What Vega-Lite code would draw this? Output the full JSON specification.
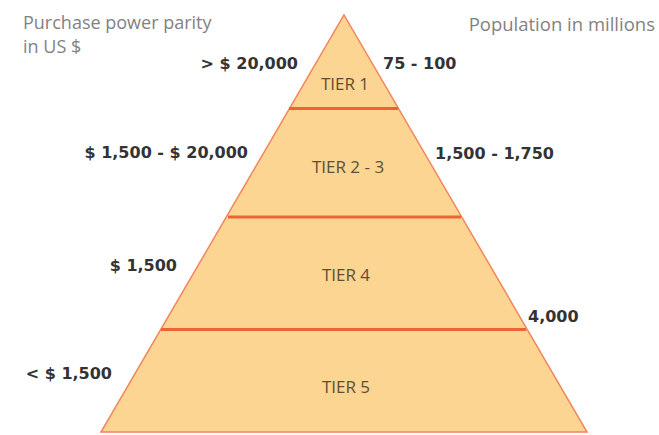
{
  "$schema": "https://vega.github.io/schema/vega-lite/v6.json",
  "width": 659,
  "height": 435,
  "autosize": {"type": "fit", "contains": "padding"},
  "padding": 0,
  "background": "white",
  "config": {"view": {"stroke": null}},
  "datasets": {
    "pyramid": [
      {"y": 15, "left": 344, "right": 344},
      {"y": 434, "left": 101, "right": 587}
    ],
    "dividers": [
      {"y": 109, "left": 289, "right": 398},
      {"y": 218, "left": 228, "right": 461},
      {"y": 331, "left": 161, "right": 526}
    ],
    "tiers": [
      {"tier": "TIER 1", "x": 345, "y": 85},
      {"tier": "TIER 2 - 3", "x": 348, "y": 169},
      {"tier": "TIER 4", "x": 346, "y": 277},
      {"tier": "TIER 5", "x": 346, "y": 390}
    ],
    "ppp": [
      {"label": "> $ 20,000", "x": 298, "y": 64},
      {"label": "$ 1,500 - $ 20,000", "x": 248, "y": 154},
      {"label": "$ 1,500", "x": 177, "y": 267},
      {"label": "< $ 1,500", "x": 112, "y": 376}
    ],
    "population": [
      {"label": "75 - 100", "x": 383, "y": 64},
      {"label": "1,500 - 1,750", "x": 435, "y": 155},
      {"label": "4,000", "x": 528, "y": 318}
    ],
    "headerLeft": [
      {"label": "Purchase power parity", "x": 23, "y": 24},
      {"label": "in US $", "x": 23, "y": 48}
    ],
    "headerRight": [
      {"label": "Population in millions", "x": 655, "y": 25}
    ]
  },
  "layer": [
    {
      "data": {"name": "pyramid"},
      "mark": {"type": "area", "orient": "horizontal", "color": "#FCD592", "stroke": "#F1865E", "strokeWidth": 1.5, "line": false},
      "encoding": {
        "y": {"field": "y", "type": "quantitative", "scale": {"domain": [0, 435], "reverse": true, "nice": false, "zero": false}, "axis": null},
        "x": {"field": "left", "type": "quantitative", "scale": {"domain": [0, 659], "nice": false, "zero": false}, "axis": null},
        "x2": {"field": "right"}
      }
    },
    {
      "data": {"name": "dividers"},
      "mark": {"type": "rule", "color": "#EE6236", "strokeWidth": 3},
      "encoding": {
        "y": {"field": "y", "type": "quantitative"},
        "x": {"field": "left", "type": "quantitative"},
        "x2": {"field": "right"}
      }
    },
    {
      "data": {"name": "tiers"},
      "mark": {"type": "text", "align": "center", "baseline": "middle", "font": "Open Sans", "fontSize": 17, "color": "#5E4E34"},
      "encoding": {
        "x": {"field": "x", "type": "quantitative"},
        "y": {"field": "y", "type": "quantitative"},
        "text": {"field": "tier"}
      }
    },
    {
      "data": {"name": "ppp"},
      "mark": {"type": "text", "align": "right", "baseline": "middle", "font": "DejaVu Sans", "fontSize": 16, "fontWeight": "bold", "color": "#333333"},
      "encoding": {
        "x": {"field": "x", "type": "quantitative"},
        "y": {"field": "y", "type": "quantitative"},
        "text": {"field": "label"}
      }
    },
    {
      "data": {"name": "population"},
      "mark": {"type": "text", "align": "left", "baseline": "middle", "font": "DejaVu Sans", "fontSize": 16, "fontWeight": "bold", "color": "#333333"},
      "encoding": {
        "x": {"field": "x", "type": "quantitative"},
        "y": {"field": "y", "type": "quantitative"},
        "text": {"field": "label"}
      }
    },
    {
      "data": {"name": "headerLeft"},
      "mark": {"type": "text", "align": "left", "baseline": "middle", "font": "Open Sans", "fontSize": 18, "color": "#828282"},
      "encoding": {
        "x": {"field": "x", "type": "quantitative"},
        "y": {"field": "y", "type": "quantitative"},
        "text": {"field": "label"}
      }
    },
    {
      "data": {"name": "headerRight"},
      "mark": {"type": "text", "align": "right", "baseline": "middle", "font": "Open Sans", "fontSize": 18.5, "color": "#828282"},
      "encoding": {
        "x": {"field": "x", "type": "quantitative"},
        "y": {"field": "y", "type": "quantitative"},
        "text": {"field": "label"}
      }
    }
  ]
}
